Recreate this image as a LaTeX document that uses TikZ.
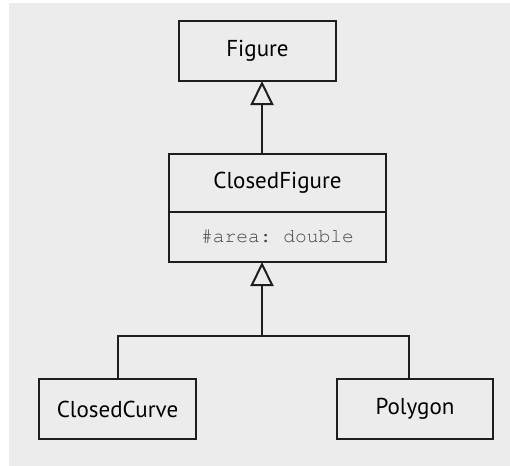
\documentclass[tikz,border=0pt]{standalone}
\usepackage{fontspec}
\setmainfont{PT Sans}
\usepackage{tikz}
\usetikzlibrary{arrows.meta, calc}
\definecolor{bgcol}{HTML}{ECECEC}
\definecolor{inkcol}{HTML}{1E1E1E}
\definecolor{attrcol}{HTML}{444444}
\newcommand{\attrfont}{\fontencoding{T1}\fontfamily{pcr}\selectfont\frenchspacing}

\begin{document}
\begin{tikzpicture}[x=0.5pt, y=-0.5pt]
    \tikzset{
      cls/.style={
        draw=inkcol,
        line width=1pt,
        rectangle,
        inner sep=0pt,
        outer sep=0pt,
        minimum width=78.5pt,
        minimum height=30pt,
        font=\fontsize{11.5}{13}\selectfont,
        % fill=white,
      },
      attr/.style={
        cls,
        minimum height=25pt,
        font=\attrfont\fontsize{9.8}{12}\selectfont,
        text=attrcol,
      },
      gen/.style={
        -{Triangle[open, length=12pt, width=11.5pt]},
        draw=inkcol,
        line width=1pt,
      },
      lnk/.style={
        draw=inkcol,
        line width=1pt,
      }
    }

    % page and background
    \useasboundingbox (0,0) rectangle (510,466);
    \fill[bgcol] (9,3) rectangle (510,466);

    % classes
    \node[cls] (fig) at (257.5,51) {Figure};
    \node[cls, minimum width=108.5pt, minimum height=29pt] (cf) at (277.5,183) {ClosedFigure};
    \node[attr, minimum width=108.5pt, anchor=north] (cfattr) at (cf.south) {\#area: double};
    \node[cls] (cc) at (117.5,409) {ClosedCurve};
    \node[cls, minimum width=78pt] (poly) at (415,409) {Polygon};

    % junctions
    \coordinate (j)  at (262,335.5);
    \coordinate (jr) at (409,335.5);

    % generalisation
    \draw[gen] (cf.north -| j) -- (j |- fig.south);
    \draw[gen] (j) -- (j |- cfattr.south);
    \draw[lnk] (cc.north) |- (jr) -- (jr |- poly.north);
\end{tikzpicture}
\end{document}
